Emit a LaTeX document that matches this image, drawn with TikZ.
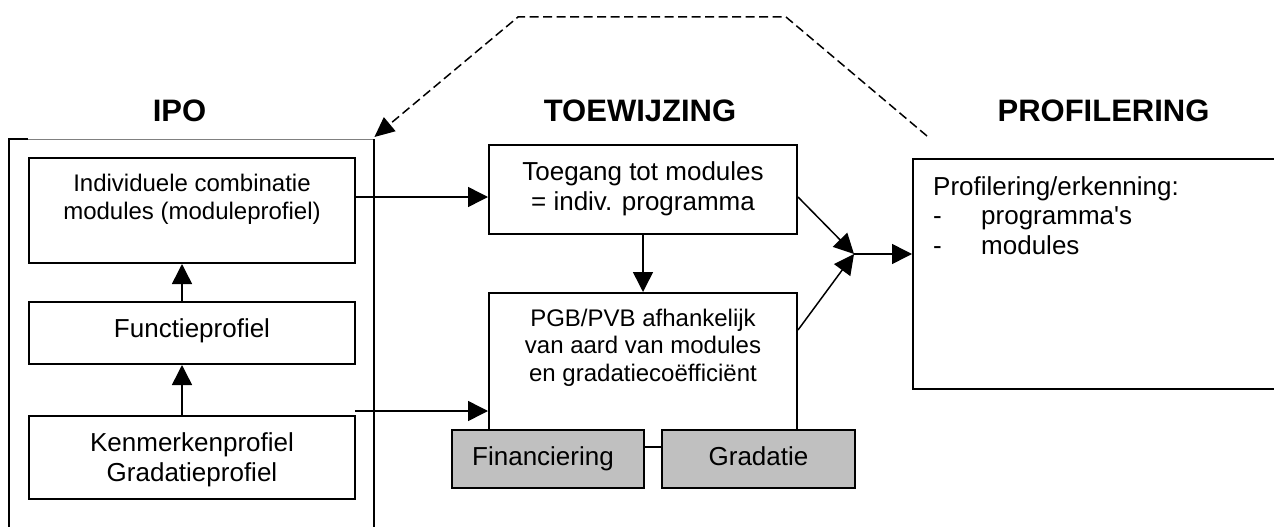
\documentclass[tikz,border=0pt]{standalone}
\usepackage{fontspec}
\setmainfont{Liberation Sans}[Ligatures=TeXOff]
\usetikzlibrary{arrows.meta}
\definecolor{panelgrey}{RGB}{192,192,192}
\tikzset{
  box/.style={draw, line width=2pt, fill=white, inner sep=0pt},
  greybox/.style={box, fill=panelgrey},
  conn/.style={line width=1.5pt, -{Triangle[length=20pt,width=20pt]}},
  feedback/.style={line width=1.5pt, dash pattern=on 9pt off 4.5pt,
    -{Triangle[length=20pt,width=18pt]}},
  lbl/.style={inner sep=0pt, anchor=base, align=center},
  bigtext/.style={font=\fontsize{26}{29.5}\selectfont},
  smalltext/.style={font=\fontsize{24}{27.5}\selectfont},
  coltitle/.style={inner sep=0pt, anchor=base, font=\bfseries\fontsize{31}{36}\selectfont},
}
\begin{document}
\begin{tikzpicture}[x=1pt,y=-1pt]
\useasboundingbox (0,0) rectangle (1274,527);
\clip (0,0) rectangle (1274,527);

% column titles
\node[coltitle] (t-ipo) at (179.5,121) {IPO};
\node[coltitle] (t-toe) at (640,121) {TOEWIJZING};
\node[coltitle] (t-pro) at (1103.5,121) {PROFILERING};

% IPO frame (open at the bottom)
\node[minimum width=365pt, minimum height=420pt, anchor=north west, inner sep=0pt] (ipo) at (9,139) {};
\draw[line width=2pt] (ipo.south west) -- (ipo.north west) -- ([xshift=19pt]ipo.north west);
\draw[line width=1pt, gray] ([xshift=19pt]ipo.north west) -- (ipo.north east);
\draw[line width=2pt] (ipo.north east) -- (ipo.south east);

% IPO profile boxes (multi-line labels sit on their last baseline)
\node[box, minimum width=326pt, minimum height=105pt] (ind) at (192,210.5) {};
\node[lbl, smalltext] (ind-t) at (192,219) {Individuele combinatie\\modules (moduleprofiel)};
\node[box, minimum width=326pt, minimum height=62pt] (fun) at (192,333) {};
\node[lbl, bigtext] (fun-t) at (192,337) {Functieprofiel};
\node[box, minimum width=326pt, minimum height=83pt] (ken) at (192,457.5) {};
\node[lbl, bigtext] (ken-t) at (192,481) {Kenmerkenprofiel\\Gradatieprofiel};

% allocation boxes; the budget box runs down behind the two grey boxes
\node[box, minimum width=308pt, minimum height=89pt] (toe) at (643,189.5) {};
\node[lbl, bigtext] (toe-t) at (643,210) {Toegang tot modules\\= indiv. programma};
\node[box, minimum width=308pt, minimum height=154pt] (pgb) at (643,370) {};
\node[lbl, smalltext] (pgb-t) at (643,381) {PGB/PVB afhankelijk\\van aard van modules\\en gradatieco\"efficiënt};
\node[greybox, minimum width=192pt, minimum height=58pt] (fin) at (548,459) {};
\node[lbl, bigtext] (fin-t) at (543,465) {Financiering};
\node[greybox, minimum width=193pt, minimum height=58pt] (gra) at (758.5,459) {};
\node[lbl, bigtext] (gra-t) at (758.5,465) {Gradatie};

% profiling box (runs past the right margin)
\node[box, minimum width=400pt, minimum height=230pt, anchor=north west] (pro) at (912,158) {};
\node[inner sep=0pt, anchor=base west, align=left, bigtext] (pro-t) at (933,254)
  {Profilering/erkenning:\\\makebox[48pt][l]{-}programma's\\\makebox[48pt][l]{-}modules};

% connectors
\coordinate (a1) at ([yshift=13.5pt]ind.east);
\coordinate (a2) at (355,411);
\coordinate (a3) at ([yshift=40pt]pgb.east);
\coordinate (j) at (854,254);
\draw[conn] ([xshift=-10pt]fun.north) -- ([xshift=-10pt]ind.south);
\draw[conn] ([xshift=-10pt]ken.north) -- ([xshift=-10pt]fun.south);
\draw[conn] (a1) -- (a1 -| toe.west);
\draw[conn] (a2) -- (a2 -| pgb.west);
\draw[conn] (toe.south) -- (pgb.north);
\draw[conn] (toe.east |- a1) -- (j);
\draw[conn] (a3) -- (j);
\draw[conn] (j) -- (j -| pro.west);

% feedback from profiling back to IPO
\coordinate (d0) at (927,136);
\coordinate (d1) at (786,17);
\coordinate (d2) at (518,17);
\draw[feedback] (d0) -- (d1) -- (d2) -- ([yshift=2pt]ipo.north east);
\end{tikzpicture}
\end{document}
